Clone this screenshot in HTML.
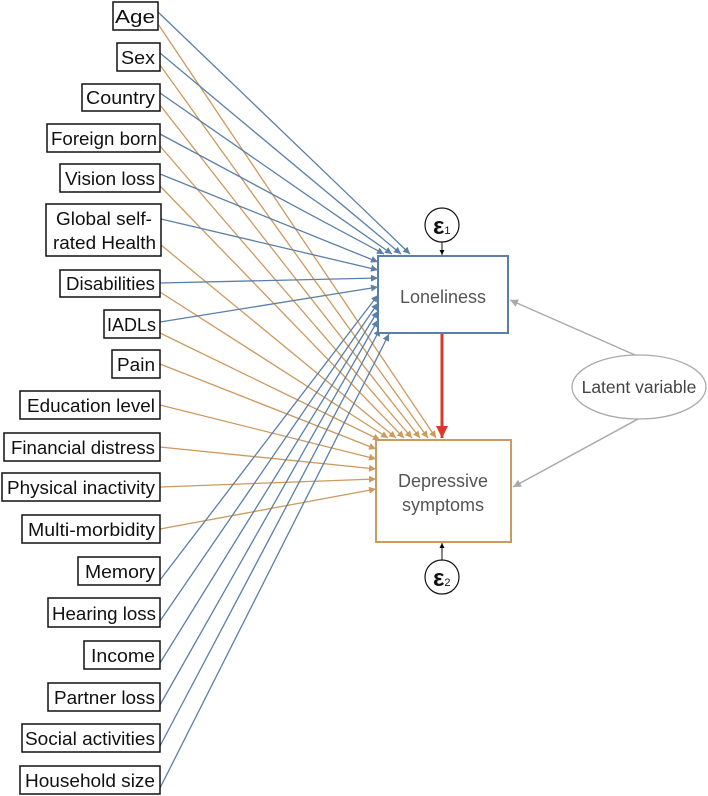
<!DOCTYPE html>
<html><head><meta charset="utf-8"><style>
html,body{margin:0;padding:0;background:#fff;}
svg{display:block;}
text{font-family:"Liberation Sans",Arial,sans-serif;}
</style></head><body>
<svg width="708" height="796" viewBox="0 0 708 796" xmlns="http://www.w3.org/2000/svg">
<defs>
<marker id="b" viewBox="0 0 10 10" refX="10" refY="5" markerWidth="7" markerHeight="7" orient="auto" markerUnits="userSpaceOnUse"><path d="M0,0L10,5L0,10z" fill="#5a7fa9"/></marker>
<marker id="o" viewBox="0 0 10 10" refX="10" refY="5" markerWidth="7" markerHeight="7" orient="auto" markerUnits="userSpaceOnUse"><path d="M0,0L10,5L0,10z" fill="#cc9a5e"/></marker>
<marker id="g" viewBox="0 0 10 10" refX="10" refY="5" markerWidth="8" markerHeight="8" orient="auto" markerUnits="userSpaceOnUse"><path d="M0,0L10,5L0,10z" fill="#aaa"/></marker>
<marker id="k" viewBox="0 0 10 10" refX="10" refY="5" markerWidth="5" markerHeight="5" orient="auto" markerUnits="userSpaceOnUse"><path d="M0,0L10,5L0,10z" fill="#000"/></marker>
<marker id="r" viewBox="0 0 10 10" refX="10" refY="5" markerWidth="12" markerHeight="12" orient="auto" markerUnits="userSpaceOnUse"><path d="M0,0L10,5L0,10z" fill="#d9392b"/></marker>
</defs>
<g stroke="#cc9a5e" stroke-width="1.3" fill="none" marker-end="url(#o)">
<line x1="158" y1="24" x2="436" y2="438"/>
<line x1="160" y1="65" x2="428" y2="438"/>
<line x1="160" y1="105" x2="420" y2="438"/>
<line x1="160" y1="146" x2="412" y2="438"/>
<line x1="160" y1="186" x2="404" y2="438"/>
<line x1="161" y1="245" x2="396" y2="438"/>
<line x1="160" y1="292" x2="388" y2="438"/>
<line x1="160" y1="333" x2="380" y2="440"/>
<line x1="160" y1="364" x2="376" y2="449"/>
<line x1="160" y1="405" x2="376" y2="459"/>
<line x1="160" y1="447" x2="376" y2="469"/>
<line x1="160" y1="487" x2="376" y2="479"/>
<line x1="160" y1="529" x2="376" y2="489"/>
</g>
<g stroke="#5a7fa9" stroke-width="1.3" fill="none" marker-end="url(#b)">
<line x1="158" y1="12" x2="410" y2="254"/>
<line x1="160" y1="53" x2="401" y2="254"/>
<line x1="160" y1="93" x2="392" y2="254"/>
<line x1="160" y1="134" x2="384" y2="254"/>
<line x1="160" y1="174" x2="378" y2="262"/>
<line x1="161" y1="219" x2="378" y2="270"/>
<line x1="160" y1="283" x2="378" y2="278"/>
<line x1="160" y1="322" x2="378" y2="287"/>
<line x1="160" y1="580" x2="378" y2="295"/>
<line x1="160" y1="621" x2="378" y2="303"/>
<line x1="160" y1="663" x2="378" y2="311"/>
<line x1="160" y1="705" x2="378" y2="320"/>
<line x1="160" y1="746" x2="380" y2="329"/>
<line x1="160" y1="788" x2="389" y2="334"/>
</g>
<g fill="#fff" stroke="#111" stroke-width="1.5">
<rect x="113" y="2" width="45" height="28"/>
<rect x="117" y="43" width="43" height="28"/>
<rect x="82" y="84" width="78" height="27"/>
<rect x="47" y="124" width="113" height="28"/>
<rect x="60" y="164" width="100" height="28"/>
<rect x="46" y="204" width="115" height="52"/>
<rect x="60" y="270" width="100" height="27"/>
<rect x="104" y="310" width="56" height="28"/>
<rect x="112" y="350" width="48" height="28"/>
<rect x="20" y="391" width="140" height="28"/>
<rect x="4" y="433" width="156" height="28"/>
<rect x="2" y="473" width="158" height="28"/>
<rect x="22" y="515" width="138" height="28"/>
<rect x="78" y="557" width="82" height="28"/>
<rect x="48" y="598" width="112" height="29"/>
<rect x="84" y="641" width="76" height="28"/>
<rect x="48" y="683" width="112" height="28"/>
<rect x="22" y="724" width="138" height="28"/>
<rect x="20" y="766" width="140" height="28"/>
</g>
<g font-size="18.5" fill="#111" text-anchor="end">
<text x="155" y="23" textLength="40" lengthAdjust="spacingAndGlyphs">Age</text>
<text x="155" y="64" textLength="34" lengthAdjust="spacingAndGlyphs">Sex</text>
<text x="155" y="104" textLength="69" lengthAdjust="spacingAndGlyphs">Country</text>
<text x="157" y="145" textLength="106" lengthAdjust="spacingAndGlyphs">Foreign born</text>
<text x="155" y="185" textLength="90" lengthAdjust="spacingAndGlyphs">Vision loss</text>
<text x="152" y="225" textLength="96" lengthAdjust="spacingAndGlyphs">Global self-</text>
<text x="156" y="249" textLength="103" lengthAdjust="spacingAndGlyphs">rated Health</text>
<text x="155" y="290" textLength="89" lengthAdjust="spacingAndGlyphs">Disabilities</text>
<text x="156" y="331" textLength="49" lengthAdjust="spacingAndGlyphs">IADLs</text>
<text x="155" y="371" textLength="38" lengthAdjust="spacingAndGlyphs">Pain</text>
<text x="155" y="412" textLength="128" lengthAdjust="spacingAndGlyphs">Education level</text>
<text x="155" y="454" textLength="144" lengthAdjust="spacingAndGlyphs">Financial distress</text>
<text x="155" y="494" textLength="148" lengthAdjust="spacingAndGlyphs">Physical inactivity</text>
<text x="155" y="536" textLength="127" lengthAdjust="spacingAndGlyphs">Multi-morbidity</text>
<text x="155" y="578" textLength="70" lengthAdjust="spacingAndGlyphs">Memory</text>
<text x="156" y="620" textLength="104" lengthAdjust="spacingAndGlyphs">Hearing loss</text>
<text x="155" y="662" textLength="64" lengthAdjust="spacingAndGlyphs">Income</text>
<text x="155" y="704" textLength="101" lengthAdjust="spacingAndGlyphs">Partner loss</text>
<text x="155" y="745" textLength="130" lengthAdjust="spacingAndGlyphs">Social activities</text>
<text x="155" y="787" textLength="130" lengthAdjust="spacingAndGlyphs">Household size</text>
</g>
<rect x="378" y="256" width="130" height="77" fill="#fff" stroke="#5a7fa9" stroke-width="2"/>
<text x="443" y="303" font-size="18" fill="#555" text-anchor="middle">Loneliness</text>
<rect x="376" y="440" width="135" height="102" fill="#fff" stroke="#cc9a5e" stroke-width="2"/>
<text x="443" y="487" font-size="18" fill="#555" text-anchor="middle">Depressive</text>
<text x="443" y="511" font-size="18" fill="#555" text-anchor="middle">symptoms</text>
<line x1="442" y1="334" x2="442" y2="438" stroke="#d9392b" stroke-width="3" marker-end="url(#r)"/>
<circle cx="442" cy="225" r="17" fill="#fff" stroke="#111" stroke-width="1.2"/>
<text x="433" y="234" font-size="24" font-weight="bold" fill="#111">ε<tspan font-size="11" font-weight="normal">1</tspan></text>
<line x1="442" y1="242" x2="442" y2="255" stroke="#111" stroke-width="1" marker-end="url(#k)"/>
<circle cx="442" cy="577" r="17" fill="#fff" stroke="#111" stroke-width="1.2"/>
<text x="433" y="586" font-size="24" font-weight="bold" fill="#111">ε<tspan font-size="11" font-weight="normal">2</tspan></text>
<line x1="442" y1="560" x2="442" y2="543" stroke="#111" stroke-width="1" marker-end="url(#k)"/>
<ellipse cx="639" cy="387" rx="67" ry="32" fill="#fff" stroke="#aaa" stroke-width="1.3"/>
<text x="639" y="393" font-size="17.5" fill="#444" text-anchor="middle">Latent variable</text>
<line x1="635" y1="355" x2="510" y2="300" stroke="#aaa" stroke-width="1.5" marker-end="url(#g)"/>
<line x1="638" y1="419" x2="513" y2="487" stroke="#aaa" stroke-width="1.5" marker-end="url(#g)"/>
</svg>
</body></html>
